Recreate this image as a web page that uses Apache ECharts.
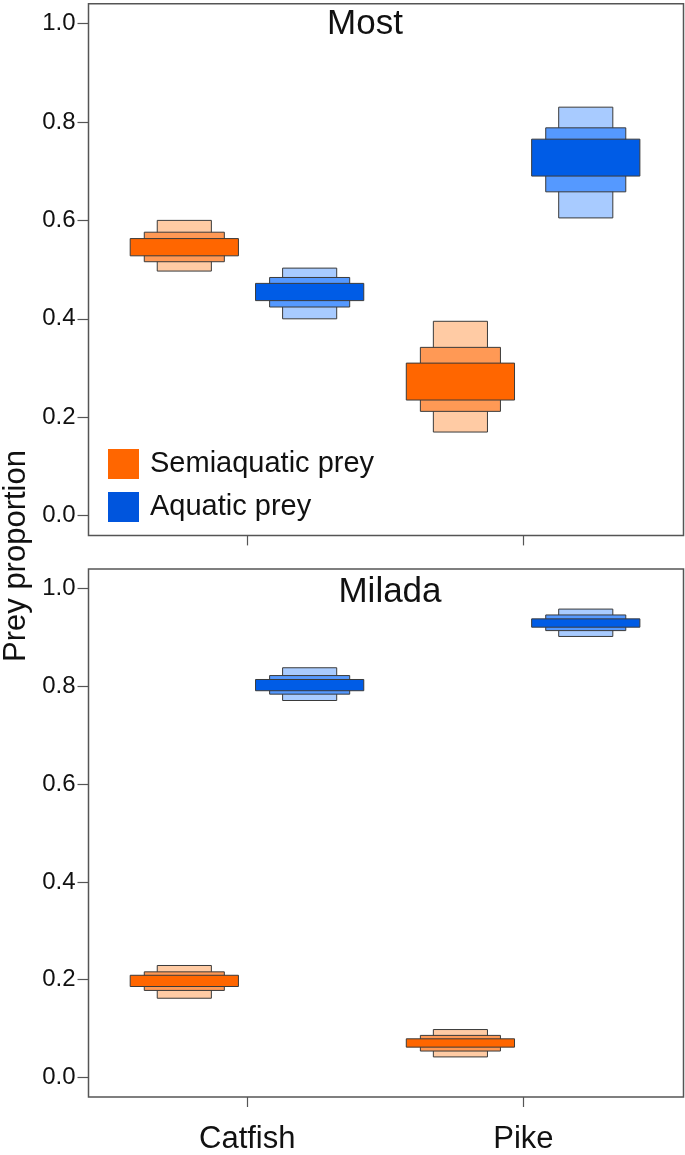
<!DOCTYPE html>
<html>
<head>
<meta charset="utf-8">
<script src="https://cdn.jsdelivr.net/npm/echarts@6/dist/echarts.min.js"></script>
<style>
  html, body { margin: 0; padding: 0; background: #ffffff; }
  #chart { width: 685px; height: 1155px; }
</style>
</head>
<body>
<div id="chart"></div>
<script>
// ---------------- data ----------------
const categories = ['Catfish', 'Pike'];
const sources = ['Semiaquatic prey', 'Aquatic prey'];
const panels = ['Most', 'Milada'];
const yTicks = [0.0, 0.2, 0.4, 0.6, 0.8, 1.0];

// credible intervals [low, high] per category (Catfish, Pike)
// outer = 95%, mid = 75%, inner = 50%
const most_semi_outer = [[0.497, 0.600], [0.170, 0.395]];
const most_semi_mid   = [[0.516, 0.576], [0.212, 0.342]];
const most_semi_inner = [[0.528, 0.563], [0.235, 0.310]];
const most_aqua_outer = [[0.400, 0.503], [0.605, 0.830]];
const most_aqua_mid   = [[0.424, 0.484], [0.658, 0.788]];
const most_aqua_inner = [[0.437, 0.472], [0.690, 0.765]];

const milada_semi_outer = [[0.162, 0.229], [0.042, 0.098]];
const milada_semi_mid   = [[0.178, 0.216], [0.054, 0.086]];
const milada_semi_inner = [[0.186, 0.209], [0.062, 0.079]];
const milada_aqua_outer = [[0.771, 0.838], [0.902, 0.958]];
const milada_aqua_mid   = [[0.784, 0.822], [0.914, 0.946]];
const milada_aqua_inner = [[0.791, 0.814], [0.921, 0.938]];

// ---------------- styling ----------------
const FONT = "'Liberation Sans', Arial, sans-serif";
const semiColors = ['#FFCBA4', '#FF9955', '#FF6600'];
const aquaColors = ['#A8CBFF', '#5599FF', '#005CE6'];
const halfWidths = [0.098, 0.145, 0.196];   // x-axis units
const offsets = [-0.228, 0.226];            // x-axis units

function buildData(outer, mid, inner) {
  const out = [];
  [outer, mid, inner].forEach((arr, lvl) => {
    arr.forEach((iv, i) => out.push([i + 1, iv[0], iv[1], lvl]));
  });
  return out;
}

function makeRender(srcIdx) {
  const colors = srcIdx === 0 ? semiColors : aquaColors;
  return function (params, api) {
    const x = api.value(0) + offsets[srcIdx];
    const lo = api.value(1), hi = api.value(2), lvl = api.value(3);
    const hw = halfWidths[lvl];
    const a = api.coord([x - hw, hi]);
    const b = api.coord([x + hw, lo]);
    return {
      type: 'rect',
      shape: { x: a[0], y: a[1], width: b[0] - a[0], height: b[1] - a[1] },
      style: { fill: colors[lvl], stroke: '#3a3a3a', lineWidth: 1 }
    };
  };
}

const grids = [
  { left: 88.5, top: 3.8, width: 595, height: 531.6, show: true, borderColor: '#555555', borderWidth: 1.5, backgroundColor: 'transparent' },
  { left: 88.5, top: 569, width: 595, height: 529.3, show: true, borderColor: '#555555', borderWidth: 1.5, backgroundColor: 'transparent' }
];

function xAxis(gi) {
  return {
    type: 'value', gridIndex: gi, min: 0.425, max: 2.58,
    position: 'bottom',
    axisLine: { show: false, onZero: false },
    splitLine: { show: false },
    axisTick: { show: true, inside: false, customValues: [1, 2], length: 10, lineStyle: { color: '#555555', width: 1.2 } },
    axisLabel: {
      show: gi === 1, customValues: [1, 2], margin: 27,
      color: '#111', fontSize: 31, fontFamily: FONT,
      formatter: v => categories[Math.round(v) - 1] || ''
    }
  };
}
function yAxis(gi) {
  return {
    type: 'value', gridIndex: gi, min: -0.04, max: 1.04,
    position: 'left',
    axisLine: { show: false, onZero: false },
    splitLine: { show: false },
    axisTick: { show: true, inside: false, customValues: yTicks, length: 11, lineStyle: { color: '#555555', width: 1.2 } },
    axisLabel: {
      customValues: yTicks, margin: 13,
      color: '#111', fontSize: 24, fontFamily: FONT,
      formatter: v => v.toFixed(1)
    }
  };
}

const siteData = [
  [buildData(most_semi_outer, most_semi_mid, most_semi_inner), buildData(most_aqua_outer, most_aqua_mid, most_aqua_inner)],
  [buildData(milada_semi_outer, milada_semi_mid, milada_semi_inner), buildData(milada_aqua_outer, milada_aqua_mid, milada_aqua_inner)]
];

const series = [];
siteData.forEach((pair, gi) => {
  pair.forEach((data, si) => {
    series.push({
      type: 'custom',
      name: sources[si],
      xAxisIndex: gi, yAxisIndex: gi,
      itemStyle: { color: si === 0 ? '#FF6600' : '#0055DD' },
      renderItem: makeRender(si),
      encode: { x: 0, y: [1, 2] },
      data: data,
      animation: false
    });
  });
});

const chart = echarts.init(document.getElementById('chart'), null, { renderer: 'canvas' });
chart.setOption({
  backgroundColor: '#ffffff',
  animation: false,
  textStyle: { fontFamily: FONT },
  grid: grids,
  xAxis: [xAxis(0), xAxis(1)],
  yAxis: [yAxis(0), yAxis(1)],
  legend: {
    data: sources,
    orient: 'vertical',
    left: 103, top: 444,
    itemWidth: 31, itemHeight: 30, itemGap: 13,
    icon: 'rect',
    itemStyle: { borderWidth: 0 },
    textStyle: { fontSize: 29, fontFamily: FONT, color: '#111', lineHeight: 30, padding: [0, 0, 0, 6] }
  },
  graphic: [
    { type: 'text', x: 365, y: 24, style: { text: panels[0], font: '35px ' + FONT, fill: '#111', textAlign: 'center', textVerticalAlign: 'middle' } },
    { type: 'text', x: 390, y: 592, style: { text: panels[1], font: '35px ' + FONT, fill: '#111', textAlign: 'center', textVerticalAlign: 'middle' } },
    { type: 'text', x: 16, y: 556, rotation: Math.PI / 2, style: { text: 'Prey proportion', font: '31px ' + FONT, fill: '#111', textAlign: 'center', textVerticalAlign: 'middle' } }
  ],
  series: series
});
</script>
</body>
</html>
